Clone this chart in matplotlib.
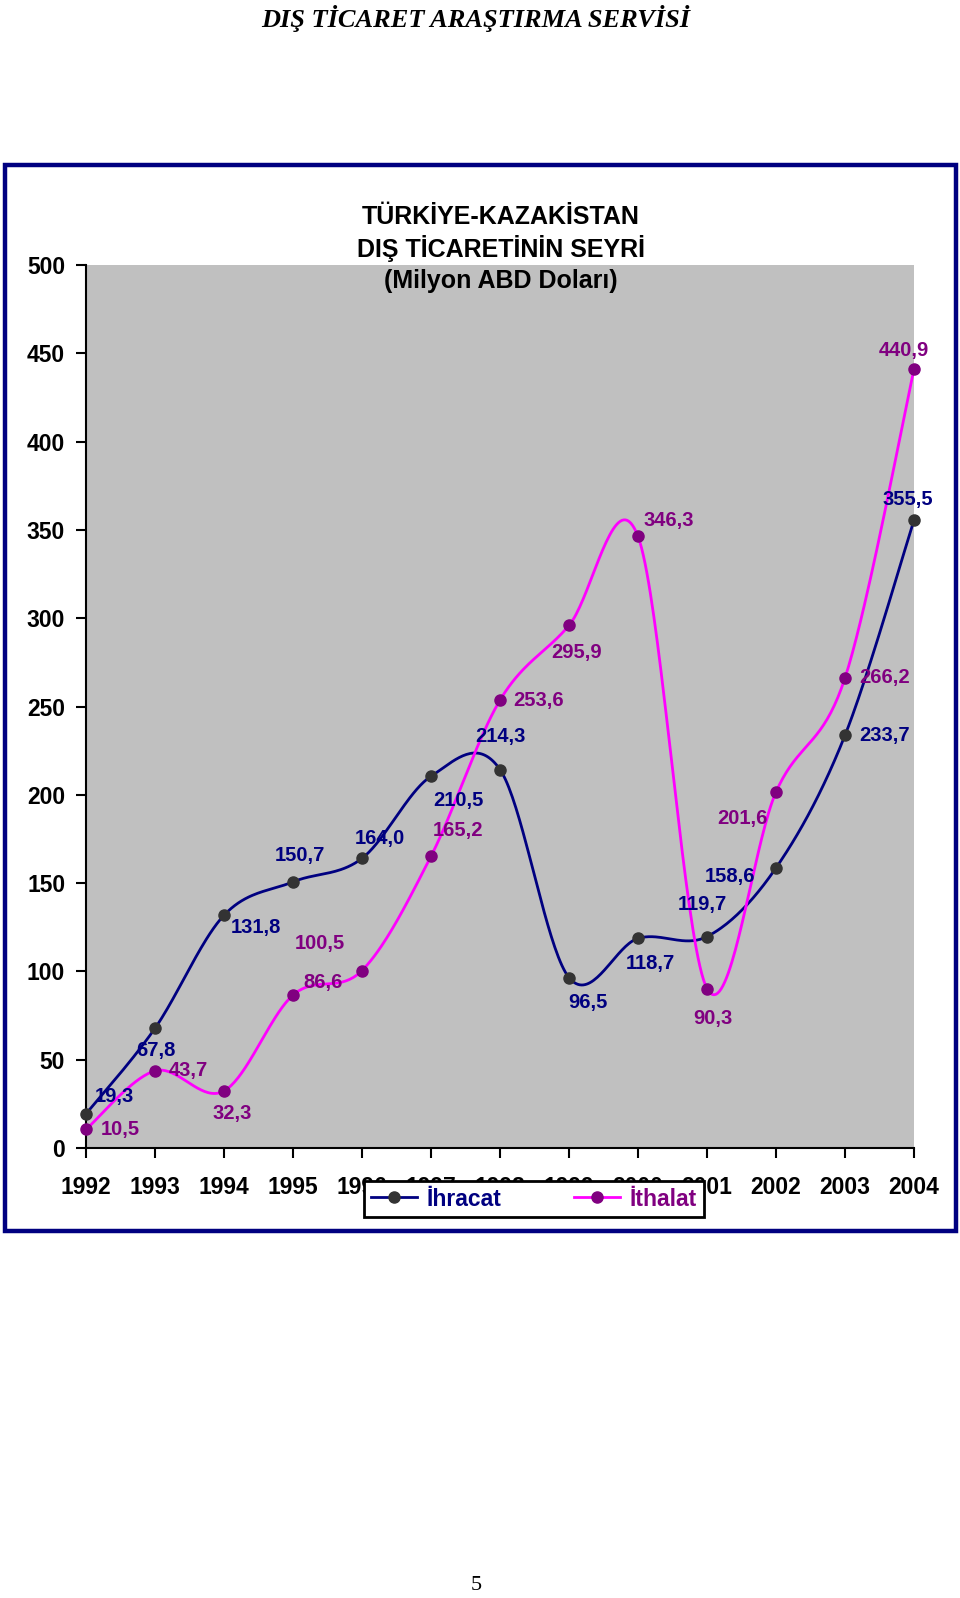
import numpy as np
import matplotlib.pyplot as plt
from matplotlib.patches import Rectangle
from matplotlib.lines import Line2D

years = [1992, 1993, 1994, 1995, 1996, 1997, 1998, 1999, 2000, 2001, 2002, 2003, 2004]
ihracat = [19.3, 67.8, 131.8, 150.7, 164.0, 210.5, 214.3, 96.5, 118.7, 119.7, 158.6, 233.7, 355.5]
ithalat = [10.5, 43.7, 32.3, 86.6, 100.5, 165.2, 253.6, 295.9, 346.3, 90.3, 201.6, 266.2, 440.9]

# label offsets in pixels (dx, dy), dy upward
ihr_off = [(28, 17), (1, -22), (32, -12), (7, 26), (18, 20), (27, -24), (0, 33),
           (19, -25), (12, -25), (-5, 32), (-46, -9), (40, 0), (-6, 21)]
ith_off = [(34, 0), (33, 0), (8, -23), (30, 13), (-42, 27), (27, 26), (39, 0),
           (8, -27), (31, 16), (6, -30), (-34, -27), (40, 0), (-10, 19)]

NAVY = "#000080"
PURPLE = "#800080"
MAGENTA = "#FF00FF"

W, H = 960, 1598
fig = plt.figure(figsize=(W / 100, H / 100), dpi=100)
plt.rcParams['font.family'] = ['Liberation Sans', 'DejaVu Sans']


def fx(px):
    return px / W


def fy(py):
    return 1 - py / H


# page header and page number
fig.text(fx(476), fy(18), "DIŞ TİCARET ARAŞTIRMA SERVİSİ", ha='center', va='center',
         fontsize=19, fontstyle='italic', fontweight='bold', family='Liberation Serif')
fig.text(fx(476), fy(1586), "5", ha='center', va='center', fontsize=16,
         family='Liberation Serif')

# blue chart border
fig.patches.append(Rectangle((fx(5), fy(1231)), fx(951), (1231 - 165) / H,
                             transform=fig.transFigure, fill=False,
                             edgecolor=NAVY, linewidth=3.2))

l, r, t, b = 86, 914, 265, 1148
ax = fig.add_axes([fx(l), fy(b), fx(r - l), (b - t) / H])
ax.set_xlim(1992, 2004)
ax.set_ylim(0, 500)
ax.set_facecolor("#C0C0C0")
for s in ['top', 'right']:
    ax.spines[s].set_visible(False)
for s in ['left', 'bottom']:
    ax.spines[s].set_linewidth(1.5)
ax.set_xticks(years)
ax.set_yticks(range(0, 501, 50))
ax.tick_params(axis='x', length=7, width=1.5, pad=13, labelsize=16.5)
ax.tick_params(axis='y', length=7, width=1.5, pad=8, labelsize=16.5)
for lab in ax.get_xticklabels() + ax.get_yticklabels():
    lab.set_fontweight('bold')


def smooth(xs, ys, n=40):
    pts = ax.transData.transform(np.column_stack([xs, ys]))
    p = np.vstack([pts[0], pts, pts[-1]])
    segs = []
    tt = np.linspace(0, 1, n)[:, None]
    for i in range(1, len(p) - 2):
        p0, p1, p2, p3 = p[i - 1], p[i], p[i + 1], p[i + 2]
        c1 = p1 + (p2 - p0) / 6
        c2 = p2 - (p3 - p1) / 6
        segs.append((1 - tt) ** 3 * p1 + 3 * (1 - tt) ** 2 * tt * c1
                    + 3 * (1 - tt) * tt ** 2 * c2 + tt ** 3 * p2)
    return ax.transData.inverted().transform(np.vstack(segs))


c = smooth(years, ihracat)
ax.plot(c[:, 0], c[:, 1], color=NAVY, lw=2, clip_on=False, zorder=3)
ax.plot(years, ihracat, 'o', color="#333333", ms=8, clip_on=False, zorder=4)
c = smooth(years, ithalat)
ax.plot(c[:, 0], c[:, 1], color=MAGENTA, lw=2, clip_on=False, zorder=5)
ax.plot(years, ithalat, 'o', color=PURPLE, ms=8, clip_on=False, zorder=6)

for x, v, o in zip(years, ihracat, ihr_off):
    ax.annotate(f"{v:.1f}".replace('.', ','), (x, v), xytext=o, textcoords='offset pixels',
                ha='center', va='center', color=NAVY, fontsize=14.5, fontweight='bold', zorder=7)
for x, v, o in zip(years, ithalat, ith_off):
    ax.annotate(f"{v:.1f}".replace('.', ','), (x, v), xytext=o, textcoords='offset pixels',
                ha='center', va='center', color=PURPLE, fontsize=14.5, fontweight='bold', zorder=7)

# title
for yy, txt in [(217, "TÜRKİYE-KAZAKİSTAN"), (249, "DIŞ TİCARETİNİN SEYRİ"),
                (281, "(Milyon ABD Doları)")]:
    fig.text(fx(501), fy(yy), txt, ha='center', va='center', fontsize=18, fontweight='bold')

handles = [Line2D([], [], color=NAVY, lw=2, marker='o', mfc="#333333", mec="#333333", ms=8),
           Line2D([], [], color=MAGENTA, lw=2, marker='o', mfc=PURPLE, mec=PURPLE, ms=8)]
leg = fig.legend(handles, ["İhracat", "İthalat"], loc='center',
                 bbox_to_anchor=(fx(534), fy(1199)), ncol=2, fancybox=False,
                 edgecolor='black', framealpha=1, fontsize=16.5, handlelength=2.0,
                 columnspacing=3.2, borderpad=0.3, borderaxespad=0, handletextpad=0.4)
leg.get_frame().set_linewidth(2)
leg._legend_box.align = 'center'
leg.set_zorder(10)
for txt, col in zip(leg.get_texts(), [NAVY, PURPLE]):
    txt.set_color(col)
    txt.set_fontweight('bold')

fig.savefig("out.png", dpi=100)
